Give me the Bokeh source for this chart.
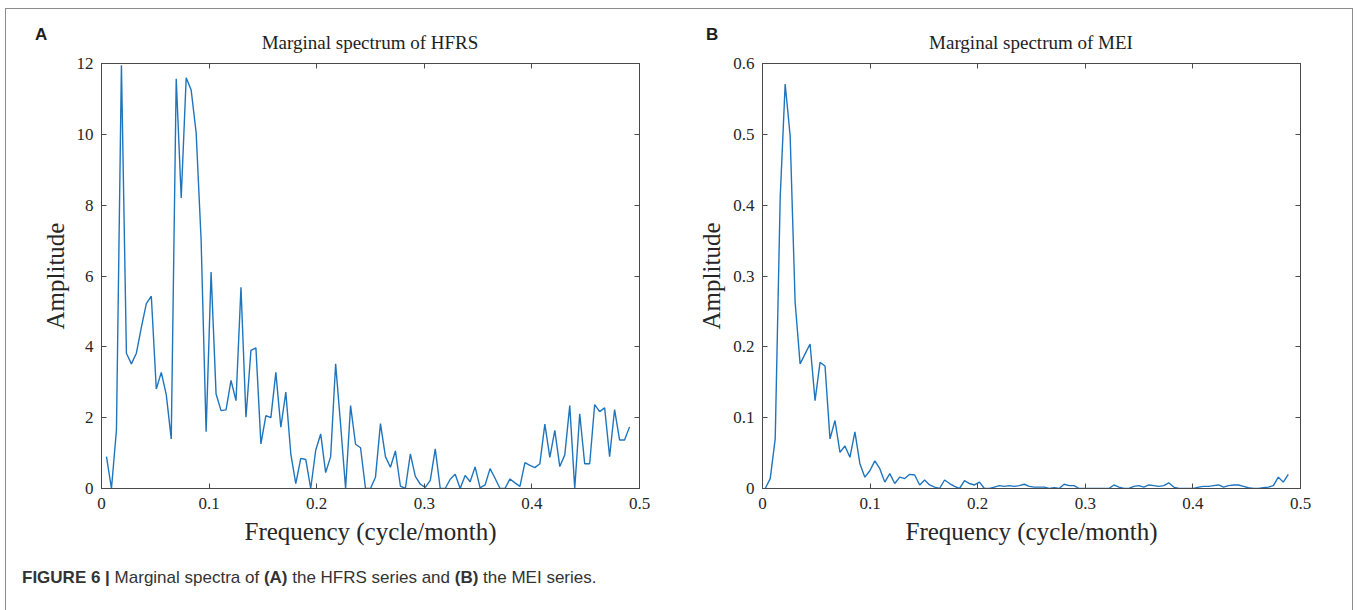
import numpy as np
from bokeh.plotting import figure
from bokeh.models import Range1d, LinearAxis, FixedTicker, Div
from bokeh.layouts import row, column
from bokeh.embed import file_html
from bokeh.resources import INLINE

# ---- data ----
hfrs_amp = [0.90, 0.0, 1.65, 11.95, 3.82, 3.52, 3.82, 4.55, 5.22, 5.43, 2.81, 3.28, 2.65, 1.40,
            11.57, 8.2, 11.6, 11.25, 10.05, 7.0, 1.6, 6.11, 2.67, 2.2, 2.22, 3.05, 2.48, 5.68,
            2.01, 3.9, 3.97, 1.26, 2.06, 2.0, 3.28, 1.73, 2.72, 0.98, 0.14, 0.85, 0.82, 0.0,
            1.08, 1.54, 0.45, 0.9, 3.52, 1.8, 0.0, 2.34, 1.25, 1.15,
            0.0, 0.0, 0.32, 1.83, 0.9, 0.60, 1.06, 0.07, 0.0, 0.98, 0.34, 0.12, 0.03, 0.23,
            1.12, 0.0, 0.0, 0.26, 0.40, 0.0, 0.37, 0.19, 0.61, 0.02, 0.1, 0.56, 0.29, 0.0,
            0.0, 0.27, 0.16, 0.06, 0.73, 0.65, 0.59, 0.70, 1.82, 0.88, 1.64, 0.62, 0.95, 2.34,
            0.0, 2.11, 0.70, 0.70, 2.37, 2.17, 2.28, 0.9, 2.23, 1.37, 1.37, 1.74]

mei_amp = [0.0, 0.014, 0.07, 0.41, 0.571, 0.498, 0.263, 0.176, 0.19, 0.204, 0.124, 0.178,
           0.173, 0.070, 0.096, 0.051, 0.060, 0.044, 0.080, 0.035, 0.016, 0.025, 0.039, 0.028,
           0.009, 0.021, 0.007, 0.016, 0.014, 0.020, 0.019, 0.005, 0.012, 0.005, 0.002, 0.0,
           0.012, 0.007, 0.003, 0.0, 0.011, 0.007, 0.005, 0.009, 0.0, 0.0, 0.002, 0.004,
           0.003, 0.004, 0.003, 0.004, 0.006, 0.003, 0.002, 0.002, 0.002, 0.0, 0.001, 0.0,
           0.006, 0.004, 0.004, 0.0, 0.0, 0.0, 0.0, 0.0, 0.0, 0.0, 0.005, 0.002, 0.0, 0.0,
           0.003, 0.004, 0.002, 0.005, 0.004, 0.003, 0.004, 0.008, 0.002, 0.0, 0.0, 0.0, 0.0,
           0.002, 0.003, 0.003, 0.004, 0.005, 0.002, 0.004, 0.005, 0.005, 0.003, 0.001, 0.0,
           0.0, 0.001, 0.002, 0.004, 0.016, 0.009, 0.020]

# frequency grid (cycle/month), spacing 1/216
freq_hfrs = np.arange(1, len(hfrs_amp) + 1) / 216.0
freq_mei = (np.arange(len(mei_amp)) + 0.55) / 216.0

x_ticks = [0, 0.1, 0.2, 0.3, 0.4, 0.5]
x_tick_labels = ["0", "0.1", "0.2", "0.3", "0.4", "0.5"]
hfrs_y_ticks = [0, 2, 4, 6, 8, 10, 12]
hfrs_y_tick_labels = ["0", "2", "4", "6", "8", "10", "12"]
mei_y_ticks = [0, 0.1, 0.2, 0.3, 0.4, 0.5, 0.6]
mei_y_tick_labels = ["0", "0.1", "0.2", "0.3", "0.4", "0.5", "0.6"]

titles = ["Marginal spectrum of HFRS", "Marginal spectrum of MEI"]
letters = ["A", "B"]
caption_html = ('<b>FIGURE 6 |</b> Marginal spectra of <b>(A)</b> the HFRS series and '
                '<b>(B)</b> the MEI series.')

LINE = "#1f75bd"
AXC = "#4a4a4a"
TXT = "#262626"
SERIF = "Liberation Serif"
HEADER_H = 44


def style_axis(ax, ticks, labels, show_labels=True):
    ax.ticker = FixedTicker(ticks=ticks)
    if show_labels:
        ax.major_label_overrides = {t: l for t, l in zip(ticks, labels)}
    else:
        ax.major_label_overrides = {t: "" for t in ticks}
    ax.major_tick_in = 5
    ax.major_tick_out = 0
    ax.minor_tick_line_color = None
    ax.axis_line_color = AXC
    ax.major_tick_line_color = AXC
    ax.major_label_text_font = SERIF
    ax.major_label_text_font_size = "17px"
    ax.major_label_text_color = TXT
    ax.axis_label_text_font = SERIF
    ax.axis_label_text_font_size = "25px"
    ax.axis_label_text_font_style = "normal"
    ax.axis_label_text_color = TXT


def make_panel(freq, amp, y_max, y_ticks, y_labels, b_left, b_right, ylab_standoff):
    p = figure(frame_width=538, frame_height=425,
               x_range=Range1d(0, 0.5), y_range=Range1d(0, y_max),
               output_backend="svg", toolbar_location=None,
               min_border_left=b_left, min_border_right=b_right,
               min_border_top=54 - HEADER_H, min_border_bottom=72,
               x_axis_label="Frequency (cycle/month)", y_axis_label="Amplitude")
    p.line(freq, amp, line_color=LINE, line_width=1.4)
    p.xgrid.visible = False
    p.ygrid.visible = False
    p.outline_line_color = AXC
    p.background_fill_color = "white"
    p.border_fill_color = "white"

    style_axis(p.xaxis[0], x_ticks, x_tick_labels)
    p.xaxis[0].major_label_standoff = 9
    p.xaxis[0].axis_label_standoff = 6
    style_axis(p.yaxis[0], y_ticks, y_labels)
    p.yaxis[0].major_label_standoff = 8
    p.yaxis[0].axis_label_standoff = ylab_standoff

    top = LinearAxis()
    style_axis(top, x_ticks, x_tick_labels, show_labels=False)
    top.major_label_standoff = 0
    top.major_label_text_font_size = "1px"
    p.add_layout(top, "above")
    right = LinearAxis()
    style_axis(right, y_ticks, y_labels, show_labels=False)
    right.major_label_standoff = 0
    p.add_layout(right, "right")
    return p


pA = make_panel(freq_hfrs, hfrs_amp, 12, hfrs_y_ticks, hfrs_y_tick_labels, 95, 56, 5)
pB = make_panel(freq_mei, mei_amp, 0.6, mei_y_ticks, mei_y_tick_labels, 67, 51, 5)

# header with panel letters and titles (positions relative to the framed box)
def span(text, left, top, width, size, font, weight, align):
    return ('<div style="position:absolute;left:%dpx;top:%dpx;width:%dpx;height:%dpx;'
            'line-height:%dpx;font-family:%s;font-size:%dpx;font-weight:%s;'
            'text-align:%s;color:#1e1e1e;white-space:nowrap;">%s</div>'
            % (left, top, width, size + 4, size + 4, font, size, weight, align, text))

header_html = ('<div style="position:relative;width:1346px;height:%dpx;">' % HEADER_H
               + span(letters[0], 29, 15, 30, 17, "'Liberation Sans'", "bold", "left")
               + span(titles[0], 95, 22, 538, 19, "'Liberation Serif'", "normal", "center")
               + span(letters[1], 700, 15, 30, 17, "'Liberation Sans'", "bold", "left")
               + span(titles[1], 756, 22, 538, 19, "'Liberation Serif'", "normal", "center")
               + '</div>')
header = Div(text=header_html, width=1346, height=HEADER_H, margin=(0, 0, 0, 0))

cap = Div(text=caption_html, width=900, height=24, margin=(8, 0, 30, 16),
          styles={"font-family": "Liberation Sans, Arial, sans-serif",
                  "font-size": "17px", "color": "#333333", "line-height": "20px"})

layout = column(header, row(pA, pB), cap, margin=(8, 0, 0, 5),
                styles={"border": "1px solid #8c8c8c", "border-bottom": "none",
                        "background-color": "white"})

open("out.html", "w").write(file_html(layout, INLINE))
